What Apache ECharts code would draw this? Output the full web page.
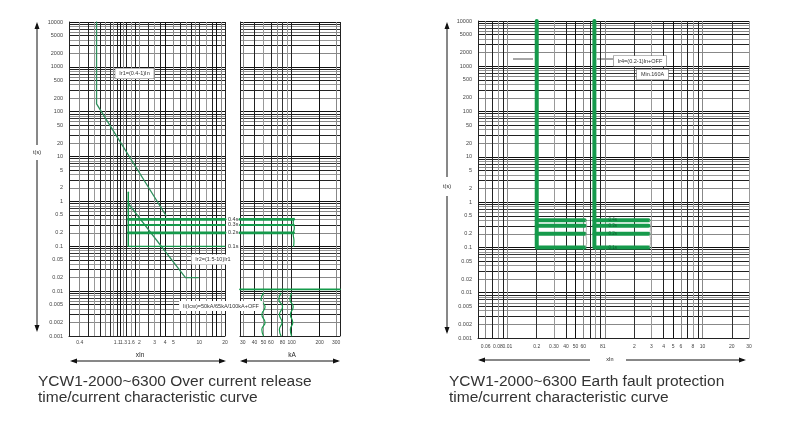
<!DOCTYPE html>
<html>
<head>
<meta charset="utf-8">
<script src="https://cdn.jsdelivr.net/npm/echarts@6/dist/echarts.min.js"></script>
<style>
html, body { margin: 0; background: #fff; }
#main { width: 800px; height: 424px; }
</style>
</head>
<body>
<div id="main"></div>
<script>
// tick labels
var timeTicks = [0.001, 0.002, 0.005, 0.01, 0.02, 0.05, 0.1, 0.2, 0.5, 1, 2, 5, 10, 20, 50, 100, 200, 500, 1000, 2000, 5000, 10000];
var inTicks = [0.4, 1.1, 1.3, 1.6, 2, 3, 4, 5, 10, 20];
var kaTicks = [30, 40, 50, 60, 80, 100, 200, 300];
var efTicks = [0.05, 0.06, 0.08, 0.1, 0.2, 0.3, 0.4, 0.5, 0.6, 0.95, 2, 3, 4, 5, 6, 8, 10, 20, 30];
var efTickText = ['0.05', '0.06', '0.08', '0.01', '0.2', '0.30', '40', '50', '60', '81', '2', '3', '4', '5', '6', '8', '10', '20', '30'];

// over current release (x = multiples of In, t = seconds)
var longDelay = [[0.63, 10000], [0.63, 150], [4.1, 0.48]];
var shortDelayEdge = [[1.48, 1.6], [1.48, 0.1]];
var shortDelayI2t = [[1.48, 0.9], [6.9, 0.02], [9.7, 0.02]];
var delayTimes = [0.4, 0.3, 0.2, 0.1];
var delayLabels = ['0.4s', '0.3s', '0.2s', '0.1s'];
var delayFrom = 1.48;
var delayToKA = 105;
var delayTailKA = [[106, 0.42], [104, 0.34], [107, 0.26], [104, 0.19], [106, 0.13], [105, 0.1]];
var instTime = 0.011;
var inst50 = [[50, 0.009], [47, 0.0065], [52, 0.0045], [48, 0.003], [52, 0.002], [48, 0.0014], [50, 0.001]];
var inst77 = [[77, 0.009], [73, 0.0065], [80, 0.0045], [74, 0.003], [79, 0.002], [74, 0.0014], [77, 0.001]];
var inst100 = [[100, 0.009], [96, 0.0065], [104, 0.0045], [97, 0.003], [103, 0.002], [97, 0.0014], [100, 0.001]];

// earth fault protection
var efPickup1 = [[0.2, 10000], [0.2, 0.1], [0.62, 0.1]];
var efPickup2 = [[0.78, 10000], [0.78, 0.1], [2.8, 0.1]];
var efTimes = [0.4, 0.3, 0.2];
var efTimeLabels = ['0.4s', '0.3s', '0.2s', '0.1s'];
var efEnd1 = 0.62;
var efEnd2 = 2.8;
var efTail1 = [[0.63, 0.4], [0.65, 0.3], [0.64, 0.2], [0.65, 0.13], [0.63, 0.1]];
var efTail2 = [[2.85, 0.4], [2.95, 0.3], [2.9, 0.2], [2.95, 0.13], [2.85, 0.1]];

// grid lines: 1..9 in every decade
function logLines(lo, hi) {
    var out = [];
    for (var e = -3; e <= 4; e++) {
        for (var m = 1; m <= 9; m++) {
            var v = +(m * Math.pow(10, e)).toPrecision(3);
            if (v >= lo - 1e-9 && v <= hi + 1e-9) out.push(v);
        }
    }
    return out;
}
var timeLines = logLines(0.001, 10000);
var inLines = [0.3, 0.4, 0.5, 0.6, 0.7, 0.8, 0.9, 1, 1.1, 1.2, 1.3, 1.4, 1.6, 1.8, 2, 2.5, 3, 3.5, 4, 5, 6, 7, 8, 9, 10, 12, 14, 16, 18, 20];
var kaLines = [28].concat(logLines(30, 300)).concat([330]);
var efLines = logLines(0.05, 30);

var green = '#159a4b';
var darkGreen = '#2e8f5c';
var font = 'Liberation Sans, Arial, sans-serif';
var gridColors = ['#111', '#888', '#222', '#999', '#222', '#888', '#333', '#999', '#222'];

function plain(v) {
    return String(+(+v).toPrecision(4));
}
function xAxis(grid, min, max, lines, labels, fmt, margin) {
    return {
        type: 'log', logBase: 10, gridIndex: grid, min: min, max: max,
        axisLine: { show: true, lineStyle: { color: '#222', width: 1 } },
        axisTick: { show: false, customValues: lines },
        splitLine: { show: true, lineStyle: { color: gridColors, width: 1 } },
        axisLabel: { customValues: labels, fontSize: 5, color: '#444', margin: margin, fontFamily: font, formatter: fmt || plain }
    };
}
function yAxis(grid, showLabel) {
    return {
        type: 'log', logBase: 10, gridIndex: grid, min: 0.001, max: 10000,
        axisLine: { show: true, lineStyle: { color: '#222', width: 1 } },
        axisTick: { show: false, customValues: timeLines },
        splitLine: { show: true, lineStyle: { color: gridColors, width: 1 } },
        axisLabel: { show: showLabel, customValues: timeTicks, fontSize: 5.5, color: '#444', margin: 6, fontFamily: font, formatter: plain }
    };
}
function line(xi, data, color, width, extra) {
    var s = {
        type: 'line', xAxisIndex: xi, yAxisIndex: xi, data: data,
        symbol: 'none', silent: true,
        lineStyle: { color: color, width: width, cap: 'round', join: 'round' }
    };
    for (var k in extra) s[k] = extra[k];
    return s;
}

var series = [];
series.push(line(0, longDelay, darkGreen, 1.3));
series.push(line(0, shortDelayI2t, darkGreen, 1.3));
series.push(line(0, shortDelayEdge, green, 1.5));
delayTimes.forEach(function (t, i) {
    var w = (t === 0.1) ? 1.3 : (t === 0.3 ? 2 : 2.8);
    series.push(line(0, [[delayFrom, t], [20, t]], green, w, {
        endLabel: { show: true, formatter: delayLabels[i], fontSize: 5.5, color: '#333', distance: 3, fontFamily: font }
    }));
    if (t !== 0.1) series.push(line(1, [[28, t], [delayToKA, t]], green, w));
});
series.push(line(1, delayTailKA, green, 1.2, { smooth: true }));
series.push(line(1, [[28, instTime], [330, instTime]], green, 1.8));
[inst50, inst77, inst100].forEach(function (d) {
    series.push(line(1, d, green, 1.2, { smooth: true }));
});

series.push(line(2, efPickup1, green, 4));
series.push(line(2, efPickup2, green, 4));
efTimes.forEach(function (t) {
    series.push(line(2, [[0.2, t], [efEnd1, t]], green, 4));
    series.push(line(2, [[0.78, t], [efEnd2, t]], green, 4));
});
series.push(line(2, efTail1, '#9a9a9a', 0.8, { smooth: true }));
series.push(line(2, efTail2, '#9a9a9a', 0.8, { smooth: true }));
// small time marks written on the second band set
series.push({
    type: 'scatter', xAxisIndex: 2, yAxisIndex: 2, symbolSize: 0, silent: true, z: 5,
    data: efTimes.concat([0.1]).map(function (t, i) { return { value: [1.2, t], name: efTimeLabels[i] }; }),
    label: { show: true, formatter: '{b}', fontSize: 4.5, color: '#0b4d26', fontFamily: font, position: 'inside' }
});

function efFmt(v) {
    var best = 0;
    for (var i = 1; i < efTicks.length; i++) {
        if (Math.abs(Math.log(efTicks[i] / v)) < Math.abs(Math.log(efTicks[best] / v))) best = i;
    }
    return efTickText[best];
}

function arrowV(x, y1, y2, up, down) {
    var g = [{ type: 'line', shape: { x1: x, y1: y1, x2: x, y2: y2 }, style: { stroke: '#111', lineWidth: 1 } }];
    if (up) g.push({ type: 'polygon', shape: { points: [[x, y1 - 2], [x - 2.5, y1 + 5], [x + 2.5, y1 + 5]] }, style: { fill: '#111' } });
    if (down) g.push({ type: 'polygon', shape: { points: [[x, y2 + 2], [x - 2.5, y2 - 5], [x + 2.5, y2 - 5]] }, style: { fill: '#111' } });
    return g;
}
function arrowH(y, x1, x2, left, right) {
    var g = [{ type: 'line', shape: { x1: x1, y1: y, x2: x2, y2: y }, style: { stroke: '#111', lineWidth: 1 } }];
    if (left) g.push({ type: 'polygon', shape: { points: [[x1 - 2, y], [x1 + 5, y - 2.5], [x1 + 5, y + 2.5]] }, style: { fill: '#111' } });
    if (right) g.push({ type: 'polygon', shape: { points: [[x2 + 2, y], [x2 - 5, y - 2.5], [x2 - 5, y + 2.5]] }, style: { fill: '#111' } });
    return g;
}
function label(x, y, text, border) {
    return {
        type: 'text', z: 100, style: {
            x: x, y: y, text: text, align: 'center', verticalAlign: 'middle',
            font: '5.5px ' + font, fill: '#333', backgroundColor: '#fff',
            borderColor: border ? '#777' : null, borderWidth: border ? 0.6 : 0, padding: [2, 4]
        }
    };
}
function txt(x, y, text, size, color) {
    return { type: 'text', style: { x: x, y: y, text: text, align: 'center', verticalAlign: 'middle', font: size + 'px ' + font, fill: color || '#222' } };
}
function lead(x1, x2, y) {
    return { type: 'line', shape: { x1: x1, y1: y, x2: x2, y2: y }, style: { stroke: '#222', lineWidth: 0.8 } };
}

var graphics = []
    .concat(arrowV(37, 24, 145, true, false))
    .concat(arrowV(37, 160, 330, false, true))
    .concat(arrowV(447, 24, 177, true, false))
    .concat(arrowV(447, 196, 332, false, true))
    .concat(arrowH(361, 72, 224, true, true))
    .concat(arrowH(361, 242, 338, true, true))
    .concat(arrowH(360, 480, 590, true, false))
    .concat(arrowH(360, 626, 744, false, true))
    .concat([
        txt(37, 152, 't(s)', 5.5), txt(447, 186, 't(s)', 5.5),
        txt(140, 355, 'xIn', 6.5), txt(292, 355, 'kA', 6.5), txt(610, 359, 'xIn', 5.5),
        label(134.5, 73.5, 'Ir1=(0.4-1)In', true),
        label(213, 259.5, 'Ir2=(1.5-10)Ir1', false),
        label(221, 306, 'Ii(Icw)=50kA/65kA/100kA+OFF', false),
        lead(513, 533, 59), lead(597, 613, 59),
        label(640, 61, 'Ir4=(0.2-1)In+OFF', true),
        label(652.5, 74.5, 'Min.160A', true),
        { type: 'text', style: { x: 38, y: 382, text: 'YCW1-2000~6300 Over current release', font: '15.5px ' + font, fill: '#333', verticalAlign: 'middle' } },
        { type: 'text', style: { x: 38, y: 398, text: 'time/current characteristic curve', font: '15.5px ' + font, fill: '#333', verticalAlign: 'middle' } },
        { type: 'text', style: { x: 449, y: 382, text: 'YCW1-2000~6300 Earth fault protection', font: '15.5px ' + font, fill: '#333', verticalAlign: 'middle' } },
        { type: 'text', style: { x: 449, y: 398, text: 'time/current characteristic curve', font: '15.5px ' + font, fill: '#333', verticalAlign: 'middle' } }
    ]);

var myChart = echarts.init(document.getElementById('main'), null, { renderer: 'canvas' });
myChart.setOption({
    animation: false,
    backgroundColor: '#fff',
    grid: [
        { left: 69, top: 22, width: 156, height: 314, containLabel: false, outerBoundsMode: 'none' },
        { left: 240, top: 22, width: 100, height: 314, containLabel: false, outerBoundsMode: 'none' },
        { left: 478, top: 21, width: 271, height: 317, containLabel: false, outerBoundsMode: 'none' }
    ],
    xAxis: [
        xAxis(0, 0.3, 20, inLines, inTicks, null, 4),
        xAxis(1, 28, 330, kaLines, kaTicks, null, 4),
        xAxis(2, 0.05, 30, efLines, efTicks, efFmt, 6)
    ],
    yAxis: [yAxis(0, true), yAxis(1, false), yAxis(2, true)],
    series: series,
    graphic: graphics
});
</script>
</body>
</html>
